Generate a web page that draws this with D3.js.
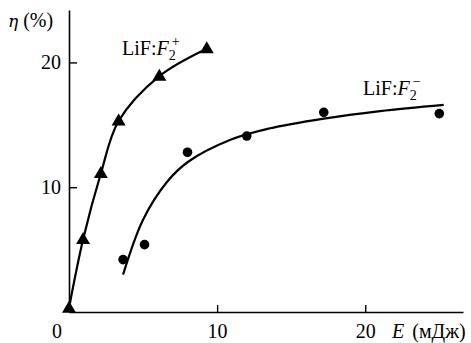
<!DOCTYPE html>
<html>
<head>
<meta charset="utf-8">
<script src="https://cdn.jsdelivr.net/npm/d3@7"></script>
<style>
  body { margin: 0; background: #fff; }
  svg text { font-family: "Liberation Serif", "Times New Roman", serif; fill: #000; }
</style>
</head>
<body>
<script>
// measured points, LiF:F2+ (triangles)
var plusE   = [0, 0.95, 2.15, 3.35, 6.1, 9.3];
var plusEta = [0.3, 5.8, 11.1, 15.3, 18.9, 21.1];
// measured points, LiF:F2- (circles)
var minusE   = [3.65, 5.1, 8.0, 12.0, 17.2, 25.0];
var minusEta = [4.2, 5.4, 12.8, 14.1, 16.0, 15.9];
// fitted curve for LiF:F2-
var fitE   = [3.65, 5.0, 6.6, 8.0, 10.9, 13.5, 17.2, 21.0, 25.3];
var fitEta = [3.0, 7.4, 10.4, 12.0, 13.8, 14.7, 15.5, 16.1, 16.6];
var xTicks = [10, 20];
var yTicks = [10, 20];

var width = 471, height = 343;

var x = d3.scaleLinear().domain([0, 26.6]).range([69, 463]);
var y = d3.scaleLinear().domain([0, 24.2]).range([312, 10]);

var svg = d3.select("body").append("svg")
    .attr("width", width)
    .attr("height", height);

// axes
var xAxis = svg.append("g")
    .attr("transform", "translate(0," + y(0) + ")")
    .call(d3.axisBottom(x).tickValues(xTicks).tickSizeInner(-7).tickSizeOuter(0).tickPadding(12));
var yAxis = svg.append("g")
    .attr("transform", "translate(" + x(0) + ",0)")
    .call(d3.axisLeft(y).tickValues(yTicks).tickSizeInner(-8).tickSizeOuter(0).tickPadding(8));

svg.selectAll("g").attr("font-family", null);
svg.selectAll(".domain").attr("stroke-width", 1.6);
svg.selectAll(".tick line").attr("stroke-width", 1.4);
svg.selectAll(".tick text").attr("font-size", 20);
xAxis.selectAll(".tick text").attr("dy", "0.7em");

svg.append("text")
    .attr("x", x(0) - 12)
    .attr("y", y(0) + 26)
    .attr("text-anchor", "middle")
    .attr("font-size", 20)
    .text("0");

var eLab = svg.append("text")
    .attr("x", 392)
    .attr("y", y(0) + 26)
    .attr("font-size", 20);
eLab.append("tspan").attr("font-style", "italic").text("E");
eLab.append("tspan").attr("dx", 3).text(" (мДж)");

var yLab = svg.append("text")
    .attr("x", 8)
    .attr("y", 27)
    .attr("font-size", 20);
yLab.append("tspan").attr("font-style", "italic").style("font-family", "'DejaVu Serif'").attr("font-size", 17).text("η");
yLab.append("tspan").text(" (%)");

// curves
var plusData = plusE.map(function(e, i) { return [e, plusEta[i]]; });
var minusData = minusE.map(function(e, i) { return [e, minusEta[i]]; });
var fitData = fitE.map(function(e, i) { return [e, fitEta[i]]; });

var line = d3.line()
    .x(function(d) { return x(d[0]); })
    .y(function(d) { return y(d[1]); });

svg.append("path")
    .attr("d", line.curve(d3.curveCatmullRom.alpha(0.5))(plusData))
    .attr("fill", "none")
    .attr("stroke", "#000")
    .attr("stroke-width", 2.2);

svg.append("path")
    .attr("d", line.curve(d3.curveCatmullRom)(fitData))
    .attr("fill", "none")
    .attr("stroke", "#000")
    .attr("stroke-width", 2.2);

// markers
svg.selectAll(".tri")
    .data(plusData)
    .enter().append("path")
    .attr("class", "tri")
    .attr("d", "M0,-7.5L7,4.5L-7,4.5Z")
    .attr("transform", function(d) { return "translate(" + x(d[0]) + "," + y(d[1]) + ")"; })
    .attr("fill", "#000");

svg.selectAll(".dot")
    .data(minusData)
    .enter().append("circle")
    .attr("class", "dot")
    .attr("cx", function(d) { return x(d[0]); })
    .attr("cy", function(d) { return y(d[1]); })
    .attr("r", 4.8)
    .attr("fill", "#000");

// series labels
function seriesLabel(px, py, sup) {
  var t = svg.append("text").attr("x", px).attr("y", py).attr("font-size", 20);
  t.append("tspan").text("LiF:");
  t.append("tspan").attr("font-style", "italic").text("F");
  t.append("tspan").attr("font-size", 14).attr("dy", 5).text("2");
  t.append("tspan").attr("font-size", 14).attr("dx", -4).attr("dy", -14).text(sup);
}
seriesLabel(122, 55, "+");
seriesLabel(363, 95, "−");
</script>
</body>
</html>
